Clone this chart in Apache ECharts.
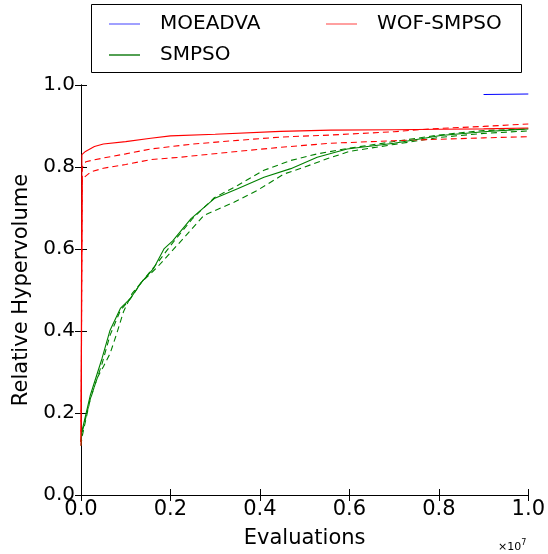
<!DOCTYPE html>
<html>
<head>
<meta charset="utf-8">
<script src="https://cdn.jsdelivr.net/npm/echarts@6/dist/echarts.min.js"></script>
<style>html,body{margin:0;padding:0;background:#fff}#c{width:548px;height:554px}</style>
</head>
<body>
<div id="c"></div>
<script>
// x values in units of 1e7 evaluations
const moeadvaX = [0.9, 1.0];
const moeadvaY = [0.977, 0.978];

const wofMedX = [0, 0.002, 0.01, 0.03, 0.05, 0.1, 0.156, 0.2, 0.3, 0.446, 0.558, 0.7, 0.8, 0.9, 1.0];
const wofMedY = [0.13, 0.83, 0.838, 0.85, 0.856, 0.862, 0.870, 0.876, 0.880, 0.887, 0.890, 0.891, 0.892, 0.893, 0.895];
const wofUpX = [0, 0.003, 0.011, 0.05, 0.1, 0.156, 0.25, 0.35, 0.446, 0.558, 0.7, 0.78, 0.9, 1.0];
const wofUpY = [0.13, 0.80, 0.813, 0.822, 0.832, 0.844, 0.856, 0.865, 0.873, 0.878, 0.886, 0.893, 0.899, 0.905];
const wofLoX = [0, 0.003, 0.022, 0.05, 0.1, 0.156, 0.223, 0.35, 0.446, 0.558, 0.7, 0.78, 0.9, 1.0];
const wofLoY = [0.12, 0.771, 0.788, 0.797, 0.806, 0.818, 0.824, 0.838, 0.848, 0.858, 0.864, 0.867, 0.871, 0.874];

const smpsoMedX = [0, 0.002, 0.021, 0.047, 0.065, 0.088, 0.110, 0.136, 0.162, 0.186, 0.205, 0.246, 0.298, 0.350, 0.409, 0.469, 0.528, 0.595, 0.7, 0.804, 0.9, 1.0];
const smpsoMedY = [0.13, 0.155, 0.244, 0.333, 0.402, 0.455, 0.479, 0.52, 0.552, 0.601, 0.62, 0.674, 0.723, 0.747, 0.775, 0.796, 0.824, 0.844, 0.858, 0.877, 0.886, 0.893];
const smpsoUpX = [0, 0.002, 0.021, 0.047, 0.065, 0.088, 0.110, 0.136, 0.17, 0.205, 0.25, 0.298, 0.35, 0.409, 0.469, 0.528, 0.6, 0.7, 0.8, 0.9, 1.0];
const smpsoUpY = [0.13, 0.15, 0.235, 0.32, 0.39, 0.45, 0.478, 0.52, 0.565, 0.615, 0.675, 0.725, 0.755, 0.792, 0.816, 0.832, 0.846, 0.862, 0.878, 0.889, 0.893];
const smpsoLoX = [0, 0.002, 0.02, 0.036, 0.05, 0.065, 0.08, 0.095, 0.114, 0.136, 0.17, 0.205, 0.275, 0.342, 0.394, 0.454, 0.5, 0.55, 0.6, 0.7, 0.8, 0.9, 1.0];
const smpsoLoY = [0.12, 0.14, 0.23, 0.285, 0.313, 0.345, 0.394, 0.447, 0.491, 0.52, 0.555, 0.597, 0.682, 0.714, 0.743, 0.783, 0.80, 0.82, 0.838, 0.855, 0.872, 0.882, 0.888];

const xTicks = [0.0, 0.2, 0.4, 0.6, 0.8, 1.0];
const yTicks = [0.0, 0.2, 0.4, 0.6, 0.8, 1.0];

const FONT = 'DejaVu Sans';
const zip = (xs, ys) => xs.map((x, i) => [x, ys[i]]);

function line(name, xs, ys, color, dashed) {
  return {
    name: name, type: 'line', data: zip(xs, ys), showSymbol: false, symbol: 'none',
    lineStyle: { color: color, width: 1.1, type: dashed ? [6, 4] : 'solid' },
    itemStyle: { color: color }, animation: false, z: dashed ? 2 : 3
  };
}

const chart = echarts.init(document.getElementById('c'), null, { renderer: 'canvas' });
const axisCommon = {
  type: 'value', min: 0, max: 1, interval: 0.2,
  axisLine: { show: true, lineStyle: { color: '#000', width: 1 } },
  axisTick: { show: true, inside: true, length: 6, lineStyle: { color: '#000' } },
  splitLine: { show: false }
};
chart.setOption({
  backgroundColor: '#fff',
  animation: false,
  grid: { left: 81, right: 19, top: 85, bottom: 57, containLabel: false },
  xAxis: [
    Object.assign({}, axisCommon, {
      position: 'bottom',
      name: 'Evaluations', nameLocation: 'middle', nameGap: 33,
      nameTextStyle: { fontFamily: FONT, fontSize: 21, color: '#000' },
      axisLabel: { fontFamily: FONT, fontSize: 21, color: '#000', margin: 4,
        customValues: xTicks, formatter: v => v.toFixed(1) }
    }),
    Object.assign({}, axisCommon, { position: 'top', axisLabel: { show: false } })
  ],
  yAxis: [
    Object.assign({}, axisCommon, {
      position: 'left',
      name: 'Relative Hypervolume', nameLocation: 'middle', nameGap: 45, nameRotate: 90,
      nameTextStyle: { fontFamily: FONT, fontSize: 21, color: '#000' },
      axisLabel: { fontFamily: FONT, fontSize: 20, color: '#000', margin: 6,
        customValues: yTicks, formatter: v => v.toFixed(1) }
    }),
    Object.assign({}, axisCommon, { position: 'right', axisLabel: { show: false } })
  ],
  legend: [
    {
      left: 104, top: 7, orient: 'vertical', itemGap: 7, icon: 'rect', itemWidth: 31, itemHeight: 1.5,
      textStyle: { fontFamily: FONT, fontSize: 20, color: '#000', lineHeight: 24, padding: [0, 0, 0, 15] },
      data: [{ name: 'MOEADVA', itemStyle: { color: '#8080ff' } }, { name: 'SMPSO', itemStyle: { color: '#1a801a' } }],
      selectedMode: false
    },
    {
      left: 321, top: 7, orient: 'vertical', itemGap: 7, icon: 'rect', itemWidth: 31, itemHeight: 1.5,
      textStyle: { fontFamily: FONT, fontSize: 20, color: '#000', lineHeight: 24, padding: [0, 0, 0, 15] },
      data: [{ name: 'WOF-SMPSO', itemStyle: { color: '#ff8080' } }],
      selectedMode: false
    }
  ],
  graphic: [
    { type: 'rect', shape: { x: 91.5, y: 4.5, width: 430, height: 68 },
      style: { fill: 'none', stroke: '#000', lineWidth: 1 }, z: 10 },
    { type: 'text', x: 498, y: 539,
      style: { text: '{a|×10}{b|7}', rich: {
        a: { fontFamily: FONT, fontSize: 11, fill: '#000', verticalAlign: 'bottom' },
        b: { fontFamily: FONT, fontSize: 8, fill: '#000', verticalAlign: 'top', padding: [0, 0, 6, 0] } } } }
  ],
  series: [
    line('MOEADVA', moeadvaX, moeadvaY, '#0000ff', false),
    line('SMPSO', smpsoMedX, smpsoMedY, '#008000', false),
    line('SMPSO', smpsoUpX, smpsoUpY, '#008000', true),
    line('SMPSO', smpsoLoX, smpsoLoY, '#008000', true),
    line('WOF-SMPSO', wofMedX, wofMedY, '#ff0000', false),
    line('WOF-SMPSO', wofUpX, wofUpY, '#ff0000', true),
    line('WOF-SMPSO', wofLoX, wofLoY, '#ff0000', true)
  ]
});
</script>
</body>
</html>
